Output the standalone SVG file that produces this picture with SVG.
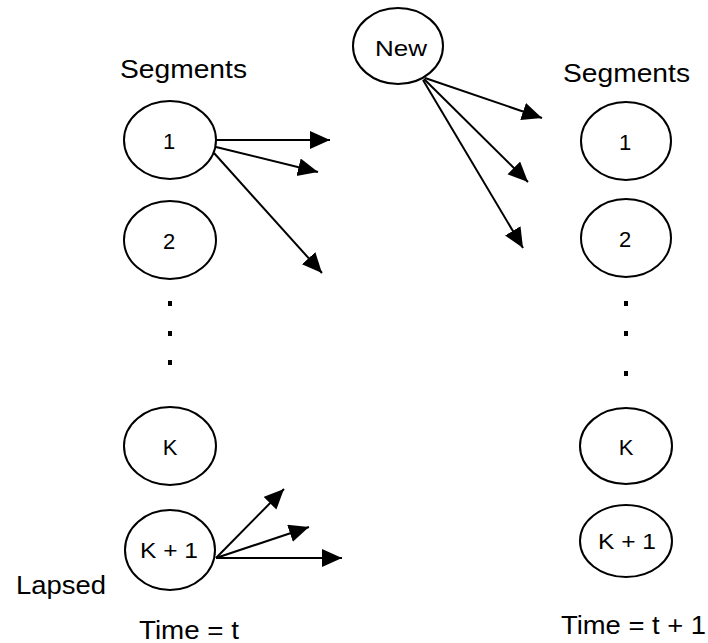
<svg xmlns="http://www.w3.org/2000/svg" width="708" height="643" viewBox="0 0 708 643">
<defs>
<marker id="ah" markerUnits="userSpaceOnUse" markerWidth="22" markerHeight="20" refX="20" refY="9" orient="auto">
<path d="M0,0 L20,9 L0,18 z" fill="#000"/>
</marker>
<style>
.n{fill:#fff;stroke:#000;stroke-width:2}
.t{font-family:"Liberation Sans",Arial,Helvetica,sans-serif;font-size:22px;fill:#000;text-anchor:middle}
.l{font-family:"Liberation Sans",Arial,Helvetica,sans-serif;font-size:25px;fill:#000}
.c{stroke:#000;stroke-width:2;fill:none;marker-end:url(#ah)}
.d{fill:#000}
</style>
</defs>
<rect width="708" height="643" fill="#fff"/>
<text class="l" x="120" y="78" textLength="127" lengthAdjust="spacingAndGlyphs">Segments</text>
<text class="l" x="563" y="82" textLength="127" lengthAdjust="spacingAndGlyphs">Segments</text>
<text class="l" x="16" y="594" textLength="90" lengthAdjust="spacingAndGlyphs">Lapsed</text>
<text class="l" x="139" y="639" textLength="100" lengthAdjust="spacingAndGlyphs">Time = t</text>
<text class="l" x="561" y="634" textLength="145" lengthAdjust="spacingAndGlyphs">Time = t + 1</text>
<g id="new"><ellipse class="n" cx="398" cy="46" rx="45" ry="38"/><text class="t" x="401" y="56" textLength="52" lengthAdjust="spacingAndGlyphs">New</text></g>
<g id="l1"><ellipse class="n" cx="170" cy="140" rx="46" ry="39"/><text class="t" x="169" y="149">1</text></g>
<g id="l2"><ellipse class="n" cx="170" cy="240" rx="46" ry="39"/><text class="t" x="169" y="249">2</text></g>
<g id="lk"><ellipse class="n" cx="170" cy="446" rx="46" ry="39"/><text class="t" x="170" y="455">K</text></g>
<g id="lk1"><ellipse class="n" cx="170" cy="550" rx="45" ry="40"/><text class="t" x="169" y="558" textLength="58" lengthAdjust="spacingAndGlyphs">K + 1</text></g>
<g id="r1"><ellipse class="n" cx="626" cy="141" rx="45" ry="39"/><text class="t" x="625" y="150">1</text></g>
<g id="r2"><ellipse class="n" cx="626" cy="238" rx="45" ry="39"/><text class="t" x="625" y="247">2</text></g>
<g id="rk"><ellipse class="n" cx="626" cy="446" rx="46" ry="38"/><text class="t" x="626" y="455">K</text></g>
<g id="rk1"><ellipse class="n" cx="626" cy="541" rx="46" ry="36"/><text class="t" x="627" y="549" textLength="58" lengthAdjust="spacingAndGlyphs">K + 1</text></g>
<g id="dots">
<rect class="d" x="168" y="301" width="4" height="5"/>
<rect class="d" x="168" y="331" width="4" height="5"/>
<rect class="d" x="168" y="360" width="4" height="5"/>
<rect class="d" x="624" y="301" width="4" height="5"/>
<rect class="d" x="624" y="331" width="4" height="5"/>
<rect class="d" x="624" y="371" width="4" height="5"/>
</g>
<g id="connectors">
<line class="c" x1="216" y1="140" x2="330" y2="140"/>
<line class="c" x1="216" y1="147" x2="318" y2="172"/>
<line class="c" x1="214" y1="153" x2="322" y2="273"/>
<line class="c" x1="425" y1="78" x2="542" y2="118"/>
<line class="c" x1="424" y1="79" x2="528" y2="182"/>
<line class="c" x1="423" y1="80" x2="523" y2="248"/>
<line class="c" x1="216" y1="558" x2="284" y2="489"/>
<line class="c" x1="216" y1="558" x2="309" y2="527"/>
<line class="c" x1="216" y1="558" x2="342" y2="558"/>
</g>
</svg>
